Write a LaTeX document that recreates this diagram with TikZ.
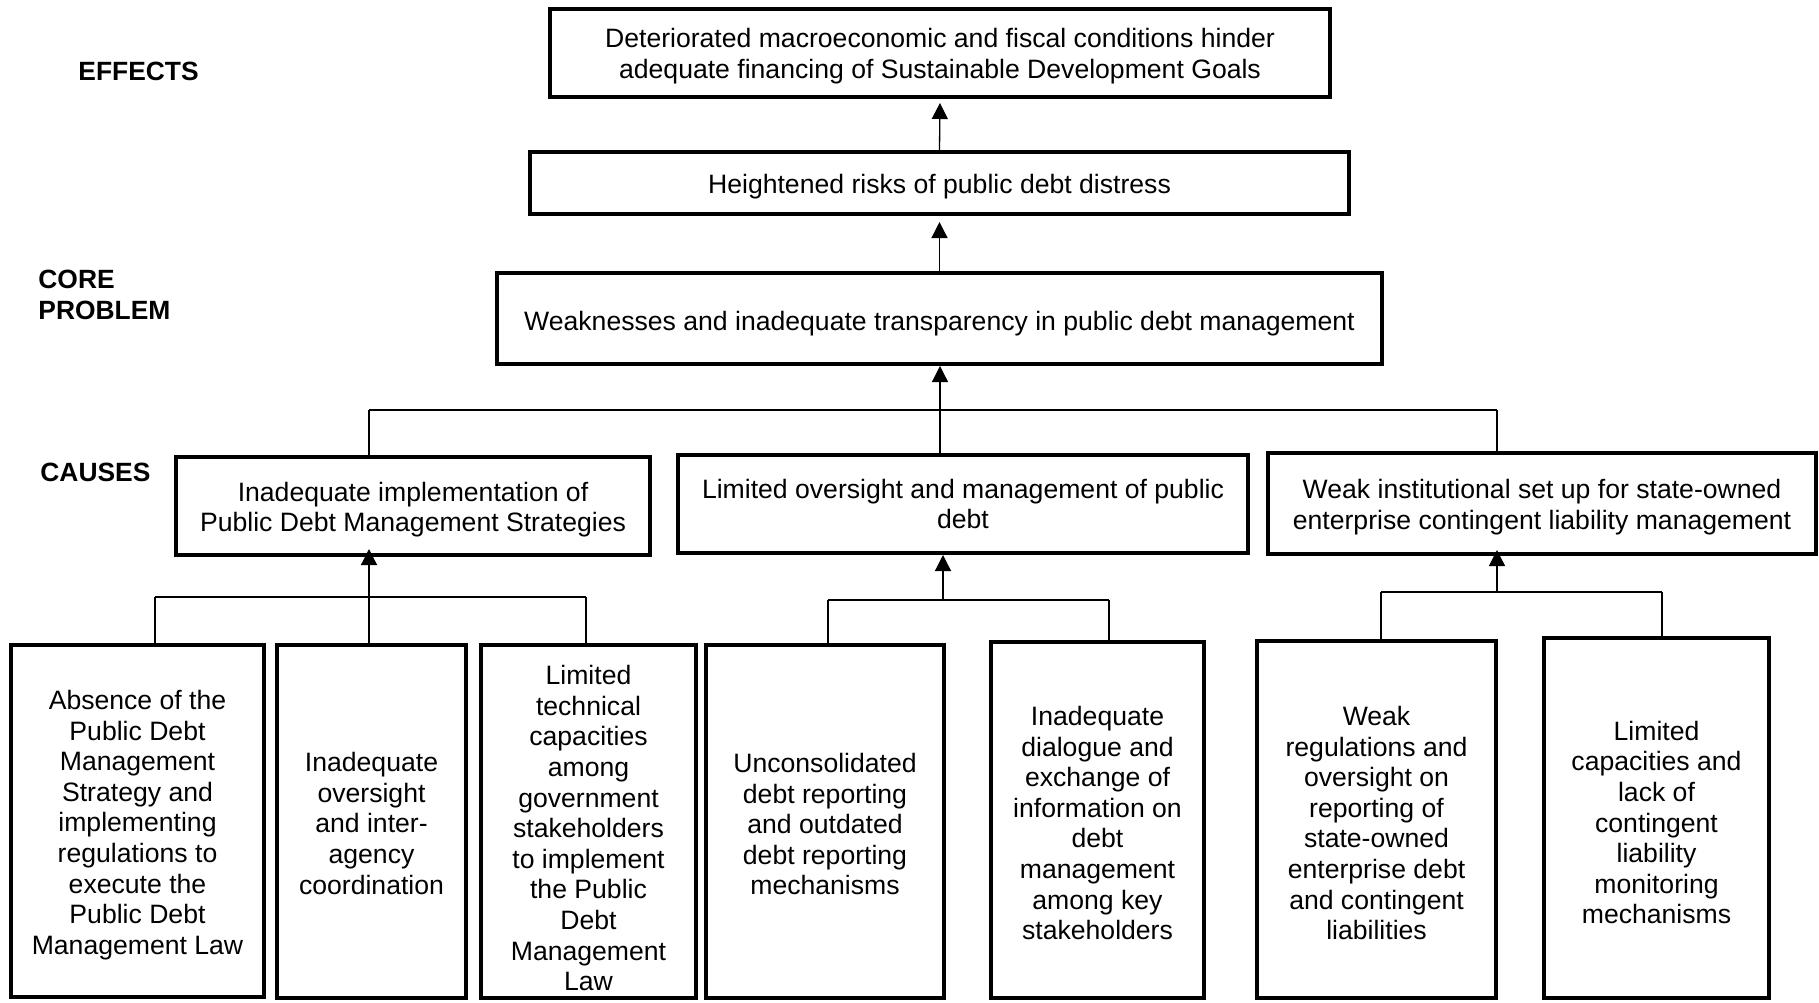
\documentclass[tikz,border=0pt]{standalone}
\usepackage{fontspec}
\setmainfont{Liberation Sans}
\usetikzlibrary{arrows.meta}
\newcommand{\boxtext}[2][1.8pt]{\raisebox{-#1}[\height][\depth]{\begin{tabular}{@{}c@{}}#2\end{tabular}}}
\begin{document}
\begin{tikzpicture}[x=0.5pt,y=-0.5pt,
  box/.style={draw, line width=2pt, inner sep=2pt, font=\fontsize{13.3pt}{15.3pt}\selectfont},
  lvl/.style={font=\fontsize{13.2pt}{15.5pt}\selectfont\bfseries, inner sep=0pt, anchor=base west, align=left},
  conn/.style={line width=0.65pt},
  arr/.style={conn, -{Triangle[length=8pt,width=8pt]}}]
\useasboundingbox (0,0) rectangle (1819,1002);

% level labels
\node[lvl] (lEff) at (78,80) {EFFECTS};
\node[lvl] (lCore) at (38,288) {CORE};
\node[lvl] (lProb) at (38,319) {PROBLEM};
\node[lvl] (lCause) at (40,481) {CAUSES};

% effects and core
\node[box, minimum width=390pt, minimum height=44pt] (eff1) at (940,53) {\boxtext[2.05pt]{Deteriorated macroeconomic and fiscal conditions hinder\\adequate financing of Sustainable Development Goals}};
\node[box, minimum width=409.5pt, minimum height=31pt] (eff2) at (939.5,183) {\boxtext[2.4pt]{Heightened risks of public debt distress}};
\node[box, minimum width=442.5pt, minimum height=45.5pt] (core) at (939.5,318.5) {\boxtext[3.05pt]{Weaknesses and inadequate transparency in public debt management}};

% causes
\node[box, minimum width=237pt, minimum height=49pt] (c1) at (413,506) {\boxtext[2.2pt]{Inadequate implementation of\\Public Debt Management Strategies}};
\node[box, minimum width=285pt, minimum height=49pt] (c2) at (963,504) {\boxtext[1.7pt]{Limited oversight and management of public\\debt}};
\node[box, minimum width=274pt, minimum height=50.5pt] (c3) at (1542,503.5) {\boxtext[2.1pt]{Weak institutional set up for state-owned\\enterprise contingent liability management}};

% sub-causes
\node[box, minimum width=126.5pt, minimum height=176pt] (s1) at (137.5,821) {\boxtext[2.4pt]{Absence of the\\Public Debt\\Management\\Strategy and\\implementing\\regulations to\\execute the\\Public Debt\\Management Law}};
\node[box, minimum width=94.5pt, minimum height=176.5pt] (s2) at (371.5,821.5) {\boxtext[2.6pt]{Inadequate\\oversight\\and inter-\\agency\\coordination}};
\node[box, minimum width=107.5pt, minimum height=176.5pt] (s3) at (588.5,821.5) {\boxtext[5pt]{Limited\\technical\\capacities\\among\\government\\stakeholders\\to implement\\the Public\\Debt\\Management\\Law}};
\node[box, minimum width=119pt, minimum height=176.5pt] (s4) at (825,821.5) {\boxtext[3pt]{Unconsolidated\\debt reporting\\and outdated\\debt reporting\\mechanisms}};
\node[box, minimum width=106.5pt, minimum height=178pt] (s5) at (1097.5,820) {\boxtext[3.2pt]{Inadequate\\dialogue and\\exchange of\\information on\\debt\\management\\among key\\stakeholders}};
\node[box, minimum width=119.5pt, minimum height=178.5pt] (s6) at (1376.5,819.5) {\boxtext[3.5pt]{Weak\\regulations and\\oversight on\\reporting of\\state-owned\\enterprise debt\\and contingent\\liabilities}};
\node[box, minimum width=112.5pt, minimum height=180pt] (s7) at (1656.5,818) {\boxtext[4pt]{Limited\\capacities and\\lack of\\contingent\\liability\\monitoring\\mechanisms}};

% upper arrows
\draw[arr, shorten >=2pt] (eff2.north) -- (eff1.south);
\draw[arr, shorten >=3pt] (core.north) -- (eff2.south);

% causes to core
\coordinate (j0) at (940,410);
\coordinate (jL) at (369,410);
\coordinate (jR) at (1497,410);
\draw[conn] (jL) -- (jR);
\draw[conn] (jL) -- (jL |- c1.north);
\draw[conn] (jR) -- (jR |- c3.north);
\draw[conn] (j0) -- (j0 |- c2.north);
\draw[arr] (j0) -- (j0 |- core.south);

% group 1
\coordinate (k1) at (369,597);
\coordinate (k1a) at (155,597);
\coordinate (k1c) at (586,597);
\draw[conn] (k1a) -- (k1c);
\draw[arr, shorten >=-4pt] (k1) -- (k1 |- c1.south);
\draw[conn] (k1a) -- (k1a |- s1.north);
\draw[conn] (k1) -- (k1 |- s2.north);
\draw[conn] (k1c) -- (k1c |- s3.north);

% group 2
\coordinate (k2) at (943,600);
\coordinate (k2a) at (828,600);
\coordinate (k2b) at (1109,600);
\draw[conn] (k2a) -- (k2b);
\draw[arr] (k2) -- (k2 |- c2.south);
\draw[conn] (k2a) -- (k2a |- s4.north);
\draw[conn] (k2b) -- (k2b |- s5.north);

% group 3
\coordinate (k3) at (1497,592);
\coordinate (k3a) at (1381,592);
\coordinate (k3b) at (1662,592);
\draw[conn] (k3a) -- (k3b);
\draw[arr, shorten >=-3pt] (k3) -- (k3 |- c3.south);
\draw[conn] (k3a) -- (k3a |- s6.north);
\draw[conn] (k3b) -- (k3b |- s7.north);
\end{tikzpicture}
\end{document}
